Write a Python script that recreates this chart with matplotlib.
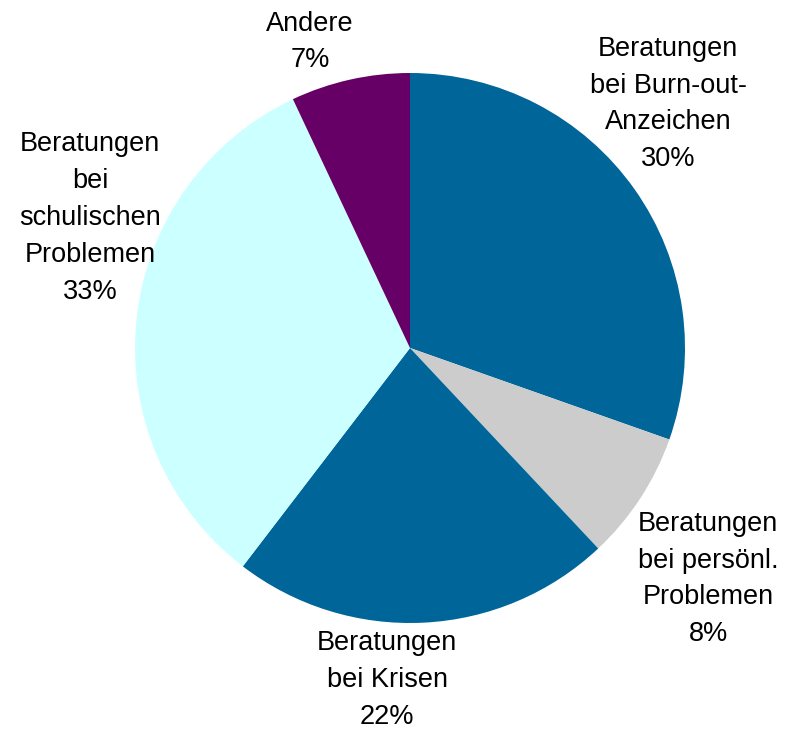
import matplotlib
matplotlib.use("Agg")
import matplotlib.pyplot as plt

labels = ["Beratungen\nbei Burn-out-\nAnzeichen", "Beratungen\nbei persönl.\nProblemen",
          "Beratungen\nbei Krisen", "Beratungen\nbei\nschulischen\nProblemen", "Andere"]
values = [30.4, 7.6, 22.4, 32.6, 7.0]
colors = ["#006699", "#CCCCCC", "#006699", "#CCFFFF", "#660066"]

# label centres in pixels (x, y from top) of the 787x733 picture
label_px = [(668, 104), (708, 579), (387, 680), (90, 218), (310, 42)]


def main():
    W, H = 787, 733
    cx, cy, r = 410, 348, 275
    fig = plt.figure(figsize=(W / 100, H / 100), dpi=100)
    ax = fig.add_axes([(cx - r) / W, (H - cy - r) / H, 2 * r / W, 2 * r / H])
    ax.pie(values, colors=colors, startangle=90, counterclock=False, radius=1,
           wedgeprops=dict(linewidth=0))
    ax.set_xlim(-1, 1)
    ax.set_ylim(-1, 1)
    ax.set_aspect("equal")
    ax.axis("off")
    total = sum(values)
    for lab, v, (px, py) in zip(labels, values, label_px):
        ax.text((px - cx) / r, (cy - py) / r, f"{lab}\n{round(100 * v / total)}%",
                ha="center", va="center", fontsize=19.5, family="Liberation Sans",
                linespacing=1.54, clip_on=False)
    fig.savefig("out.png", dpi=100)


if __name__ == "__main__":
    main()
